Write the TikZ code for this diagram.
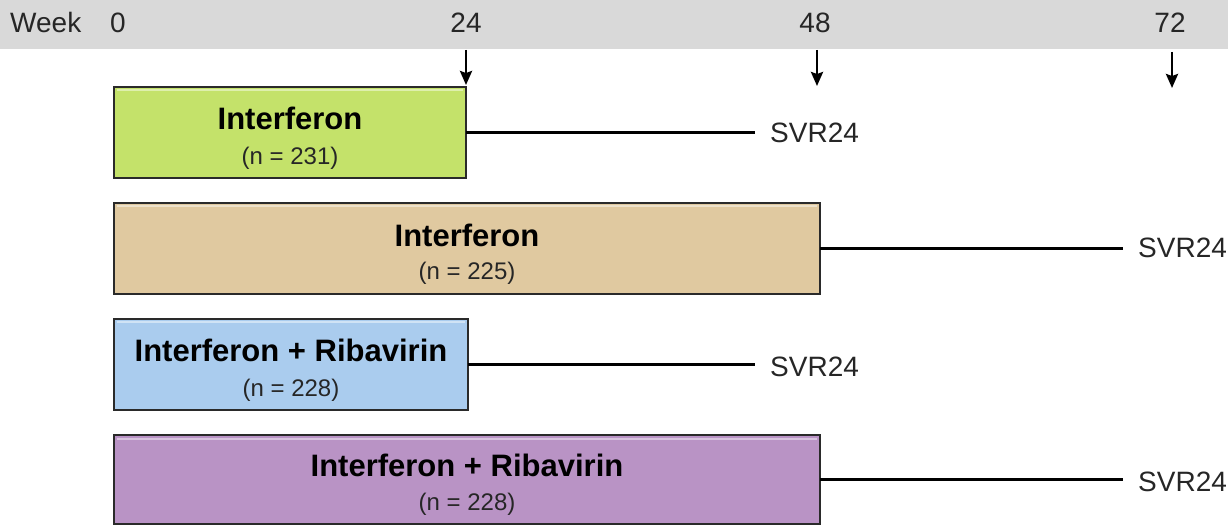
\documentclass[tikz,border=0pt]{standalone}
\usepackage{fontspec}
\setmainfont{Liberation Sans}
\usetikzlibrary{arrows.meta,calc}
\definecolor{barg}{HTML}{D9D9D9}
\definecolor{armgreen}{HTML}{C4E26A}
\definecolor{armtan}{HTML}{E0C9A0}
\definecolor{armblue}{HTML}{AACCEE}
\definecolor{armpurple}{HTML}{B993C5}
\definecolor{edge}{HTML}{2A2A2A}
\begin{document}
\begin{tikzpicture}[x=1pt,y=-1pt,
  armbox/.style={draw=edge, line width=2.6pt, minimum height=91pt, anchor=north west, inner sep=0pt, outer sep=0pt,
    path picture={\draw[white, opacity=0.45, line width=2pt]
      ([xshift=3pt,yshift=-3.5pt]path picture bounding box.north west) --
      ([xshift=-3pt,yshift=-3.5pt]path picture bounding box.north east);}},
  armtitle/.style={font=\bfseries\fontsize{31}{35}\selectfont, anchor=base, inner sep=0pt},
  armcount/.style={font=\fontsize{24}{28}\selectfont, anchor=base, inner sep=0pt, text=black!85},
  svr/.style={font=\fontsize{28}{32}\selectfont, anchor=base west, inner sep=0pt, text=black!85},
  ticklab/.style={font=\fontsize{28}{32}\selectfont, anchor=base, inner sep=0pt, text=black!85},
  conn/.style={line width=2.4pt, shorten >=15pt},
  weekarrow/.style={line width=2.6pt, arrows={-Stealth[length=14pt,width=12pt,inset=2pt]}}
]
\useasboundingbox (0,0) rectangle (1228,526);
\fill[barg] (0,0) rectangle (1228,49);

% week labels
\node[ticklab, anchor=base west] (wk) at (10,33) {Week};
\node[ticklab] (t0) at (118,33) {0};
\node[ticklab] (t24) at (466,33) {24};
\node[ticklab] (t48) at (815,33) {48};
\node[ticklab] (t72) at (1170,33) {72};

% arms
\node[armbox, fill=armgreen, minimum width=352pt] (b1) at (114,87) {};
\node[armbox, fill=armtan, minimum width=706pt] (b2) at (114,203) {};
\node[armbox, fill=armblue, minimum width=354pt] (b3) at (114,319) {};
\node[armbox, fill=armpurple, minimum width=706pt, minimum height=89pt] (b4) at (114,435) {};

\node[armtitle] (h1) at ([yshift=3pt]b1.center) {Interferon};
\node[armcount] (n1) at ([yshift=-32pt]b1.center) {(n = 231)};
\node[armtitle] (h2) at ([yshift=2pt]b2.center) {Interferon};
\node[armcount] (n2) at ([yshift=-31pt]b2.center) {(n = 225)};
\node[armtitle] (h3) at ([yshift=3pt]b3.center) {Interferon + Ribavirin};
\node[armcount] (n3) at ([yshift=-32pt]b3.center) {(n = 228)};
\node[armtitle] (h4) at ([yshift=3pt]b4.center) {Interferon + Ribavirin};
\node[armcount] (n4) at ([yshift=-31pt]b4.center) {(n = 228)};

% SVR labels
\node[svr] (s1) at (770,143) {SVR24};
\node[svr] (s2) at (1138,258) {SVR24};
\node[svr] (s3) at (770,376) {SVR24};
\node[svr] (s4) at (1138,491) {SVR24};

\draw[conn] (b1.east) -- (b1.east -| s1.west);
\draw[conn] (b2.east) -- (b2.east -| s2.west);
\draw[conn] (b3.east) -- (b3.east -| s3.west);
\draw[conn] (b4.east) -- (b4.east -| s4.west);

% week arrows
\coordinate (a24) at (466,50);
\coordinate (a48) at (817,50);
\coordinate (e48) at (817,86);
\coordinate (a72) at (1172,52);
\coordinate (e72) at (1172,88);
\draw[weekarrow, shorten >=2pt] (a24) -- (b1.north east);
\draw[weekarrow] (a48) -- (e48);
\draw[weekarrow] (a72) -- (e72);
\end{tikzpicture}
\end{document}
